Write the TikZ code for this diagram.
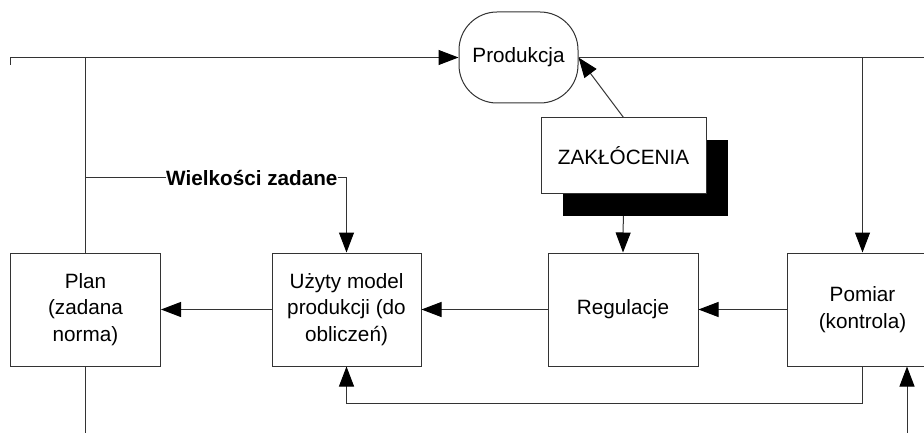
\documentclass[tikz,border=0pt]{standalone}
\usepackage{fontspec}
\setmainfont{Liberation Sans}
\usetikzlibrary{arrows.meta,backgrounds}
\begin{document}
\begin{tikzpicture}[x=1pt,y=-1pt,
  line/.style={draw=black!80, line width=1pt},
  arr/.style={line, -{Triangle[length=20pt,width=15pt,black]}},
  box/.style={draw=black!80, line width=1pt, fill=white, minimum width=150pt, minimum height=113pt, align=center, inner sep=0pt, font=\fontsize{20.7}{26.7}\selectfont},
]
\useasboundingbox (0,0) rectangle (924,433);
\node[box] (plan) at (85.5,309.5) {Plan\\(zadana\\norma)};
\node[box, minimum width=149pt] (model) at (346.5,309.5) {Użyty model\\produkcji (do\\obliczeń)};
\node[box] (reg) at (623,309.5) {Regulacje};
\node[box] (pom) at (862.5,309.5) {Pomiar\\(kontrola)};
\node[box, minimum width=119pt, minimum height=91pt, rounded corners=38pt] (prod) at (518.5,57.5) {Produkcja};
\node[fill=black, minimum width=165pt, minimum height=76pt, inner sep=0pt] (zakshadow) at (645.5,178) {};
\node[box, minimum width=165pt, minimum height=75pt] (zak) at (623.5,155.5) {ZAKŁÓCENIA};
\node[inner sep=0pt, anchor=west, font=\fontsize{20.7}{24}\selectfont\bfseries] (wz) at (166,178) {Wielkości zadane};

\coordinate (tl) at (10,65);
\coordinate (tr) at (924,57.5);
\coordinate (pb) at (85.5,433);
\coordinate (br) at (907,433);

\begin{scope}[on background layer]
\draw[arr] (zak.south) -- (reg.north);
\end{scope}
\draw[arr] (tl) |- (prod.west);
\draw[line] (plan.north) -- (plan.north |- prod.west);
\draw[line] (plan.south) -- (pb);
\draw[line] (plan.north |- wz.west) -- (wz.west);
\draw[arr] (wz.east) -| (model.north);
\draw[line] (prod.east) -- (tr);
\draw[arr] (pom.north |- prod.east) -- (pom.north);
\draw[arr] (zak.north) -- (prod.east);
\draw[arr] (model.west) -- (plan.east);
\draw[arr] (reg.west) -- (model.east);
\draw[arr] (pom.west) -- (reg.east);
\draw[arr] (pom.south) -- ++(0,37) -| (model.south);
\draw[arr] (br) -- (br |- pom.south);
\end{tikzpicture}
\end{document}
